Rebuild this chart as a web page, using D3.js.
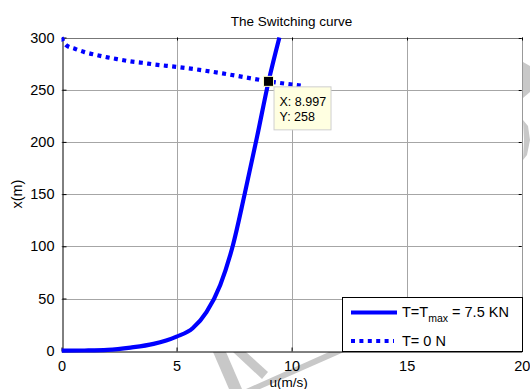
<!DOCTYPE html>
<html>
<head>
<meta charset="utf-8">
<script src="https://cdn.jsdelivr.net/npm/d3@7/dist/d3.min.js"></script>
<style>
  html, body { margin: 0; padding: 0; background: #fff; }
  svg { display: block; font-family: "Liberation Sans", Arial, sans-serif; }
</style>
</head>
<body>
<svg id="chart" width="530" height="389"></svg>
<script>
// Switching curve: distance x(m) against speed u(m/s)
const uThrust = [0, 1, 2, 3, 4, 5, 5.7, 6.3, 6.9, 7.45, 7.95, 8.5, 9.0, 9.47];
const xThrust = [0, 0.2, 0.8, 3, 6.5, 13.5, 21.5, 37, 63, 101, 149, 205, 258, 300];

const uCoast = [0, 0.2, 0.6, 1.0, 1.5, 2.0, 2.5, 3.0, 3.5, 4.0, 5.0, 6.0, 7.0, 8.0, 9.0, 10.4];
const xCoast = [300, 292.7, 289, 286, 283.3, 281, 279, 277.1, 275.8, 274.3, 271.8, 269, 265.6, 261.8, 258, 254];

const xTicks = [0, 5, 10, 15, 20];
const yTicks = [0, 50, 100, 150, 200, 250, 300];

const tipPoint = { u: 8.997, x: 258 };

const svg = d3.select("#chart");
const L = 61.5, R = 521.7, T = 37.5, B = 350.7;

const xs = d3.scaleLinear().domain([0, 20]).range([L, R]);
const ys = d3.scaleLinear().domain([0, 300]).range([B, T]);
const px = v => Math.round(v) + 0.5;

// faint background stamp, partly hidden behind the axes
const stamp = svg.append("g").attr("fill", "#c8c8c8");
[
  [[213, 352], [226, 352], [242, 389], [229, 389]],
  [[233, 352], [246, 352], [268, 372], [262, 379]],
  [[246, 389], [260, 389], [344, 352], [329, 352]],
  [[523, 62], [530, 66], [530, 92], [523, 98]],
  [[523, 120], [528, 126], [530, 140], [527, 155], [523, 160], [524, 140]]
].forEach(p => stamp.append("polygon").attr("points", p.map(d => d.join(",")).join(" ")));

// axes background
svg.append("rect").attr("x", L).attr("y", T).attr("width", R - L).attr("height", B - T).attr("fill", "#fff");

// grid
const grid = svg.append("g").attr("stroke", "#a6a6a6").attr("stroke-width", 1);
xTicks.slice(1, -1).forEach(t => grid.append("line")
  .attr("x1", px(xs(t))).attr("x2", px(xs(t))).attr("y1", T).attr("y2", B));
yTicks.slice(1, -1).forEach(t => grid.append("line")
  .attr("y1", px(ys(t))).attr("y2", px(ys(t))).attr("x1", L).attr("x2", R));

// box edges
svg.append("line").attr("x1", L).attr("x2", R).attr("y1", px(T)).attr("y2", px(T)).attr("stroke", "#777");
svg.append("line").attr("x1", px(R)).attr("x2", px(R)).attr("y1", T).attr("y2", B).attr("stroke", "#999");

// bottom and left axes with inward ticks
const xAxis = svg.append("g").attr("transform", `translate(0,${px(B)})`)
  .call(d3.axisBottom(xs).tickValues(xTicks).tickSizeInner(-4).tickSizeOuter(0).tickPadding(9));
const yAxis = svg.append("g").attr("transform", `translate(${px(L)},0)`)
  .call(d3.axisLeft(ys).tickValues(yTicks).tickSizeInner(-4).tickSizeOuter(0).tickPadding(8));
[xAxis, yAxis].forEach(g => {
  g.select(".domain").attr("stroke", "#000");
  g.selectAll(".tick line").attr("stroke", "#000");
  g.selectAll(".tick text").attr("fill", "#000").attr("font-size", 14.5)
    .attr("font-family", "Liberation Sans, Arial, sans-serif");
});
// opposite-side ticks
const opp = svg.append("g").attr("stroke", "#000");
xTicks.forEach(t => opp.append("line").attr("x1", px(xs(t))).attr("x2", px(xs(t))).attr("y1", T).attr("y2", T + 3));
yTicks.forEach(t => opp.append("line").attr("y1", px(ys(t))).attr("y2", px(ys(t))).attr("x1", R - 3).attr("x2", R));

// curves
const clip = svg.append("clipPath").attr("id", "plotclip");
clip.append("rect").attr("x", L).attr("y", T - 3).attr("width", R - L).attr("height", B - T + 6);

const line = d3.line().x(d => xs(d[0])).y(d => ys(d[1])).curve(d3.curveMonotoneX);
const curves = svg.append("g").attr("clip-path", "url(#plotclip)");
curves.append("path").datum(d3.zip(uCoast, xCoast)).attr("d", line)
  .attr("fill", "none").attr("stroke", "#0000ff").attr("stroke-width", 4.2)
  .attr("stroke-dasharray", "4,4.4");
curves.append("path").datum(d3.zip(uThrust, xThrust)).attr("d", line)
  .attr("fill", "none").attr("stroke", "#0000ff").attr("stroke-width", 4.2);

// data tip
svg.append("rect").attr("x", xs(tipPoint.u) - 5).attr("y", ys(tipPoint.x) - 5)
  .attr("width", 10).attr("height", 10).attr("fill", "#000").attr("stroke", "#ffffc8").attr("stroke-width", 1);
const tip = svg.append("g").attr("transform", `translate(${xs(tipPoint.u) + 5},${ys(tipPoint.x) + 5})`);
tip.append("rect").attr("x", 0.5).attr("y", 0.5).attr("width", 57).attr("height", 43)
  .attr("fill", "#ffffe1").attr("stroke", "#cfcfcf");
tip.append("text").attr("x", 6).attr("y", 20).attr("font-size", 12.5).text(`X: ${tipPoint.u}`);
tip.append("text").attr("x", 6).attr("y", 35).attr("font-size", 12.5).text(`Y: ${tipPoint.x}`);

// legend
const lg = svg.append("g");
lg.append("rect").attr("x", 342.5).attr("y", 297.5).attr("width", 180).attr("height", 54)
  .attr("fill", "#fff").attr("stroke", "#000");
lg.append("line").attr("x1", 351).attr("x2", 397).attr("y1", 312.5).attr("y2", 312.5)
  .attr("stroke", "#0000ff").attr("stroke-width", 4.2);
lg.append("line").attr("x1", 351).attr("x2", 394).attr("y1", 341).attr("y2", 341)
  .attr("stroke", "#0000ff").attr("stroke-width", 4.2).attr("stroke-dasharray", "4,4.4");
const t1 = lg.append("text").attr("x", 402).attr("y", 317).attr("font-size", 14.5);
t1.append("tspan").text("T=T");
t1.append("tspan").attr("font-size", 10.5).attr("dy", 4.5).text("max");
t1.append("tspan").attr("dy", -4.5).text(" = 7.5 KN");
lg.append("text").attr("x", 402).attr("y", 346).attr("font-size", 14.5).text("T= 0 N");

// title and axis labels
svg.append("text").attr("x", (L + R) / 2).attr("y", 26).attr("text-anchor", "middle")
  .attr("font-size", 13.5).text("The Switching curve");
svg.append("text").attr("x", (L + R) / 2 - 3).attr("y", 387).attr("text-anchor", "middle")
  .attr("font-size", 13.5).text("u(m/s)");
svg.append("text").attr("transform", `translate(22,${(T + B) / 2}) rotate(-90)`)
  .attr("text-anchor", "middle").attr("font-size", 14.5).text("x(m)");
</script>
</body>
</html>
